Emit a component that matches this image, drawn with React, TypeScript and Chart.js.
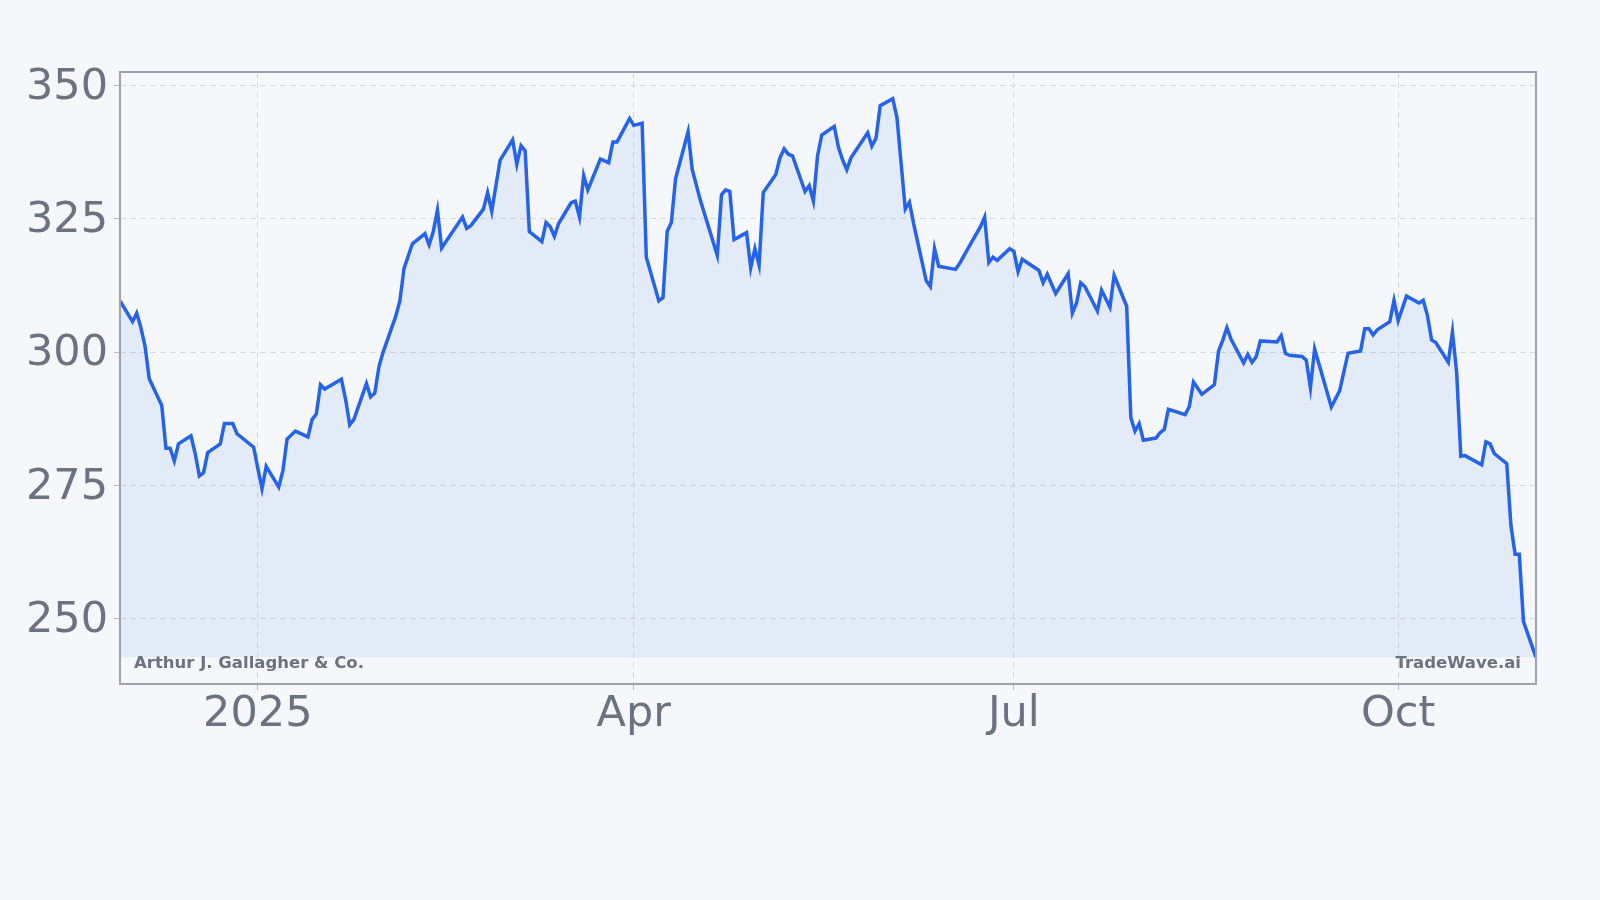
import React, { useEffect, useRef } from "react";
import { Chart, registerables } from "chart.js";

Chart.register(...registerables);

// ---- data ----
const dates: string[] = [
  "2024-11-29", "2024-12-02", "2024-12-03", "2024-12-04", "2024-12-05", "2024-12-06",
  "2024-12-09", "2024-12-10", "2024-12-11", "2024-12-12", "2024-12-13", "2024-12-16",
  "2024-12-17", "2024-12-18", "2024-12-19", "2024-12-20", "2024-12-23", "2024-12-24",
  "2024-12-26", "2024-12-27", "2024-12-31", "2025-01-01", "2025-01-02", "2025-01-03",
  "2025-01-06", "2025-01-07", "2025-01-08", "2025-01-10", "2025-01-13", "2025-01-14",
  "2025-01-15", "2025-01-16", "2025-01-17", "2025-01-21", "2025-01-22", "2025-01-23",
  "2025-01-24", "2025-01-27", "2025-01-28", "2025-01-29", "2025-01-30", "2025-01-31",
  "2025-02-03", "2025-02-04", "2025-02-05", "2025-02-07", "2025-02-10", "2025-02-11",
  "2025-02-12", "2025-02-13", "2025-02-14", "2025-02-19", "2025-02-20", "2025-02-21",
  "2025-02-24", "2025-02-25", "2025-02-26", "2025-02-28", "2025-03-03", "2025-03-04",
  "2025-03-05", "2025-03-06", "2025-03-07", "2025-03-10", "2025-03-11", "2025-03-12",
  "2025-03-13", "2025-03-14", "2025-03-17", "2025-03-18", "2025-03-19", "2025-03-20",
  "2025-03-21", "2025-03-24", "2025-03-26", "2025-03-27", "2025-03-28", "2025-03-31",
  "2025-04-01", "2025-04-03", "2025-04-04", "2025-04-07", "2025-04-08", "2025-04-09",
  "2025-04-10", "2025-04-11", "2025-04-14", "2025-04-15", "2025-04-17", "2025-04-21",
  "2025-04-22", "2025-04-23", "2025-04-24", "2025-04-25", "2025-04-28", "2025-04-29",
  "2025-04-30", "2025-05-01", "2025-05-02", "2025-05-05", "2025-05-06", "2025-05-07",
  "2025-05-08", "2025-05-09", "2025-05-12", "2025-05-13", "2025-05-14", "2025-05-15",
  "2025-05-16", "2025-05-19", "2025-05-20", "2025-05-21", "2025-05-22", "2025-05-23",
  "2025-05-27", "2025-05-28", "2025-05-29", "2025-05-30", "2025-06-02", "2025-06-03",
  "2025-06-05", "2025-06-06", "2025-06-07", "2025-06-10", "2025-06-11", "2025-06-12",
  "2025-06-13", "2025-06-17", "2025-06-18", "2025-06-20", "2025-06-23", "2025-06-24",
  "2025-06-25", "2025-06-26", "2025-06-27", "2025-06-30", "2025-07-01", "2025-07-02",
  "2025-07-03", "2025-07-07", "2025-07-08", "2025-07-09", "2025-07-11", "2025-07-14",
  "2025-07-15", "2025-07-16", "2025-07-17", "2025-07-18", "2025-07-21", "2025-07-22",
  "2025-07-24", "2025-07-25", "2025-07-28", "2025-07-29", "2025-07-30", "2025-07-31",
  "2025-08-01", "2025-08-04", "2025-08-05", "2025-08-06", "2025-08-07", "2025-08-11",
  "2025-08-12", "2025-08-13", "2025-08-15", "2025-08-18", "2025-08-19", "2025-08-20",
  "2025-08-21", "2025-08-22", "2025-08-25", "2025-08-26", "2025-08-27", "2025-08-28",
  "2025-08-29", "2025-09-02", "2025-09-03", "2025-09-04", "2025-09-05", "2025-09-08",
  "2025-09-09", "2025-09-10", "2025-09-11", "2025-09-15", "2025-09-17", "2025-09-19",
  "2025-09-22", "2025-09-23", "2025-09-24", "2025-09-25", "2025-09-26", "2025-09-29",
  "2025-09-30", "2025-10-01", "2025-10-03", "2025-10-06", "2025-10-07", "2025-10-08",
  "2025-10-09", "2025-10-10", "2025-10-13", "2025-10-14", "2025-10-15", "2025-10-16",
  "2025-10-17", "2025-10-21", "2025-10-22", "2025-10-23", "2025-10-24", "2025-10-27",
  "2025-10-28", "2025-10-29", "2025-10-30", "2025-10-31", "2025-11-03",
];

const prices: number[] = [
  309.6, 305.7, 307.3, 304.6, 301.1, 295.0,
  290.0, 282.0, 282.0, 279.6, 282.8, 284.3,
  281.0, 276.8, 277.4, 281.2, 282.8, 286.6,
  286.6, 284.7, 282.2, 278.2, 274.4, 278.6,
  274.7, 277.8, 283.7, 285.2, 284.1, 287.4,
  288.4, 293.9, 293.1, 294.9, 291.2, 286.4,
  287.4, 294.1, 291.6, 292.3, 297.3, 300.0,
  306.7, 309.6, 315.7, 320.3, 322.2, 320.1,
  322.6, 326.6, 319.5, 325.3, 323.2, 323.7,
  326.8, 329.9, 326.4, 336.0, 339.8, 335.2,
  338.7, 337.7, 322.6, 320.7, 324.3, 323.5,
  321.7, 324.1, 328.0, 328.3, 325.3, 333.1,
  330.4, 336.2, 335.5, 339.4, 339.4, 343.8,
  342.5, 342.9, 317.8, 309.6, 310.2, 322.6,
  324.3, 332.5, 341.3, 334.2, 328.3, 318.1,
  329.5, 330.4, 330.1, 321.1, 322.4, 315.8,
  319.4, 316.3, 329.9, 333.3, 336.4, 338.1,
  337.1, 336.8, 330.1, 331.2, 328.3, 336.8,
  340.7, 342.3, 338.4, 336.0, 334.2, 336.4,
  341.1, 338.6, 340.1, 346.2, 347.5, 344.0,
  326.8, 328.1, 324.1, 313.4, 312.3, 319.4,
  316.1, 315.5, 316.6, 319.4, 323.5, 325.3,
  316.8, 317.8, 317.2, 319.4, 318.9, 315.1,
  317.4, 315.3, 313.0, 314.6, 311.0, 314.7,
  307.3, 309.2, 313.0, 312.3, 307.7, 311.6,
  308.4, 314.4, 308.6, 287.7, 285.2, 286.6,
  283.5, 283.9, 284.9, 285.5, 289.3, 288.3,
  289.8, 294.4, 292.1, 293.9, 300.2, 302.2,
  304.6, 302.4, 298.0, 299.6, 298.1, 299.1,
  302.1, 301.9, 303.1, 299.8, 299.4, 299.2,
  298.5, 293.3, 300.6, 289.7, 292.8, 299.8,
  300.2, 304.4, 304.4, 303.2, 304.2, 305.7,
  309.7, 305.9, 310.5, 309.2, 309.7, 306.9,
  302.3, 301.8, 298.1, 303.8, 296.2, 280.5,
  280.6, 278.9, 283.2, 282.8, 281.0, 279.1,
  267.5, 262.1, 262.1, 249.5, 242.8,
];

const tickDates: string[] = ["2025-01-01", "2025-04-01", "2025-07-01", "2025-10-01"];
const tickLabels: string[] = ["2025", "Apr", "Jul", "Oct"];
const yTicks: number[] = [250, 275, 300, 325, 350];
const companyName = "Arthur J. Gallagher & Co.";
const brandName = "TradeWave.ai";

// ---- styles ----
const BG = "#f5f7fa";
const LINE = "#2563eb";
const FILL = "rgba(37, 99, 235, 0.08)";
const TEXT = "#6b7280";
const GRID = "#d6dae0";
const FRAME = "#9ca3af";
const FONT = "'DejaVu Sans', sans-serif";

const toMs = (s: string): number => {
  const [y, m, d] = s.split("-").map(Number);
  return Date.UTC(y, m - 1, d);
};

const decorPlugin = {
  id: "decor",
  beforeDraw(chart: any) {
    const { ctx, width, height } = chart;
    ctx.save();
    ctx.fillStyle = BG;
    ctx.fillRect(0, 0, width, height);
    ctx.restore();
  },
  afterDatasetsDraw(chart: any) {
    const { ctx, chartArea } = chart;
    ctx.save();
    ctx.font = `bold 16.5px ${FONT}`;
    ctx.fillStyle = TEXT;
    ctx.textBaseline = "alphabetic";
    ctx.textAlign = "left";
    ctx.fillText(companyName, chartArea.left + 14, chartArea.bottom - 16);
    ctx.textAlign = "right";
    ctx.fillText(brandName, chartArea.right - 15, chartArea.bottom - 16);
    ctx.restore();
  },
  afterDraw(chart: any) {
    const { ctx, chartArea } = chart;
    ctx.save();
    ctx.strokeStyle = FRAME;
    ctx.lineWidth = 2;
    ctx.strokeRect(chartArea.left, chartArea.top, chartArea.right - chartArea.left, chartArea.bottom - chartArea.top);
    ctx.restore();
  },
};

export default function App() {
  const canvasRef = useRef<HTMLCanvasElement | null>(null);

  useEffect(() => {
    document.body.style.margin = "0";
    document.body.style.background = BG;
    const canvas = canvasRef.current;
    if (!canvas) return;

    const points = dates.map((d, i) => ({ x: toMs(d), y: prices[i] }));
    const dataMin = Math.min(...prices);
    const dataMax = Math.max(...prices);
    const xs = points.map((p) => p.x);

    const chart = new Chart(canvas, {
      type: "line",
      data: {
        datasets: [
          {
            data: points,
            borderColor: LINE,
            borderWidth: 3.5,
            backgroundColor: FILL,
            fill: { value: dataMin },
            pointRadius: 0,
            tension: 0,
          },
        ],
      },
      plugins: [decorPlugin],
      options: {
        animation: false,
        responsive: false,
        devicePixelRatio: 1,
        layout: { padding: { left: 0, top: 72, right: 64, bottom: 156 } },
        plugins: { legend: { display: false }, tooltip: { enabled: false } },
        scales: {
          x: {
            type: "linear",
            min: Math.min(...xs),
            max: Math.max(...xs),
            afterBuildTicks: (axis: any) => {
              axis.ticks = tickDates.map((d) => ({ value: toMs(d) }));
            },
            afterFit: (axis: any) => {
              axis.height = 60;
            },
            ticks: {
              autoSkip: false,
              maxRotation: 0,
              padding: -1,
              color: TEXT,
              font: { family: FONT, size: 43 },
              callback: (_v: any, i: number) => tickLabels[i],
            },
            grid: { color: GRID, lineWidth: 1, tickLength: 6, tickColor: "#b8bec7", drawTicks: true },
            border: { display: false, dash: [6, 4] },
          },
          y: {
            type: "linear",
            min: dataMin - 5,
            max: dataMax + 5,
            afterBuildTicks: (axis: any) => {
              axis.ticks = yTicks.map((v) => ({ value: v }));
            },
            afterFit: (axis: any) => {
              axis.width = 120;
            },
            ticks: {
              padding: 6,
              labelOffset: 2,
              color: TEXT,
              font: { family: FONT, size: 43 },
              callback: (v: any) => String(v),
            },
            grid: { color: GRID, lineWidth: 1, tickLength: 6, tickColor: "#b8bec7", drawTicks: true },
            border: { display: false, dash: [6, 4] },
          },
        },
      },
    } as any);

    return () => chart.destroy();
  }, []);

  return (
    <div style={{ width: 1600, height: 900, background: BG }}>
      <canvas ref={canvasRef} width={1600} height={900} style={{ display: "block" }} />
    </div>
  );
}
